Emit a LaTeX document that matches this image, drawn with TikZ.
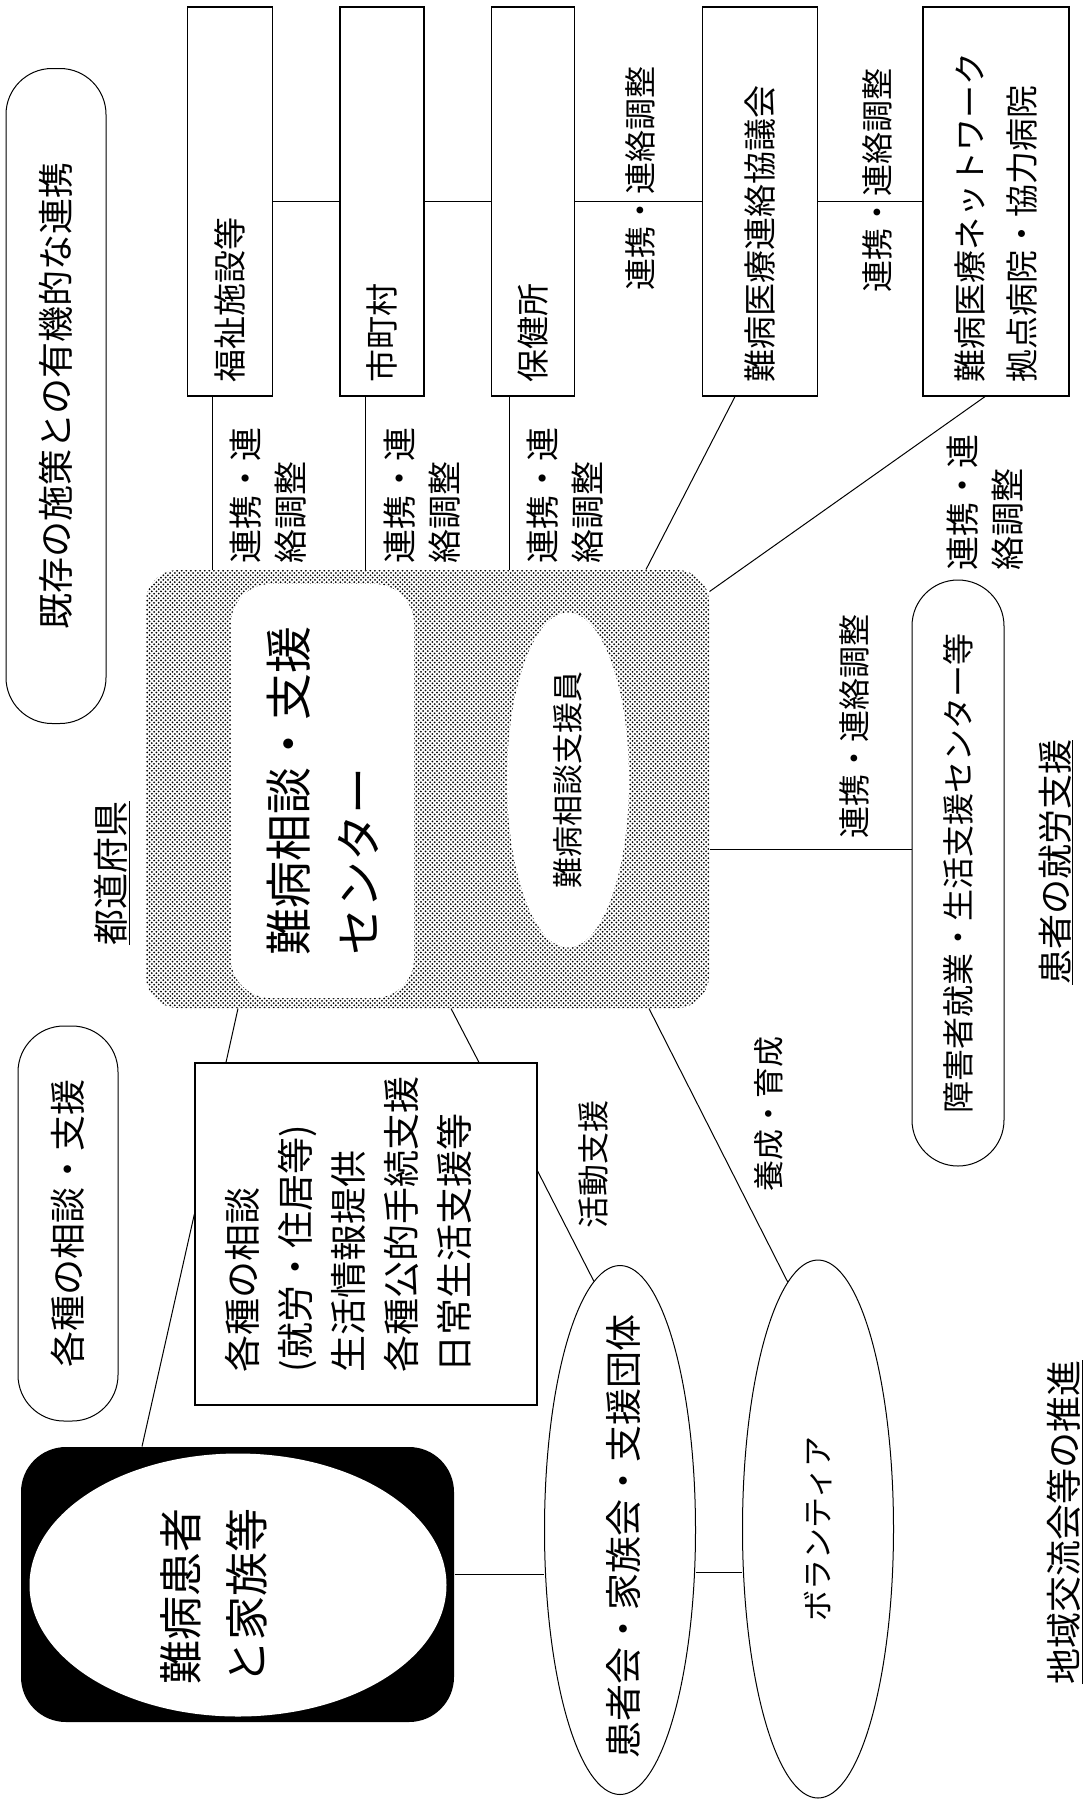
\documentclass[tikz,border=0pt]{standalone}
\usepackage{fontspec}
\setmainfont{Noto Sans CJK JP}
\usetikzlibrary{shapes.geometric,patterns}
\newcommand{\jp}[2]{\fontsize{#1}{#2}\selectfont}
\pgfdeclarepatternformonly{centredots}{\pgfqpoint{-1pt}{-1pt}}{\pgfqpoint{3.5pt}{3.5pt}}{\pgfqpoint{4.6pt}{4.6pt}}{
    \pgfpathcircle{\pgfqpoint{0pt}{0pt}}{1pt}
    \pgfpathcircle{\pgfqpoint{2.3pt}{2.3pt}}{1pt}
    \pgfusepath{fill}}

\begin{document}
\begin{tikzpicture}[x=1pt, y=-1pt, line width=1pt,
        every node/.style={rotate=90, inner sep=0pt},
        topbox/.style={draw, line width=1.2pt, minimum width=389, minimum height=#1, text width=361, align=left, font=\jp{33}{52}},
        roundbox/.style={draw, rounded corners=46, minimum height=100, font=\jp{36}{44}},
        pairlbl/.style={align=left, font=\jp{34}{45}},
        linklbl/.style={font=\jp{32}{40}},
        headlbl/.style={font=\jp{36}{44}}]
        \fill[white] (0,0) rectangle (1085,1815);
        \useasboundingbox (0,0) rectangle (1085,1815);

        % Existing measures box
        \node[roundbox, minimum width=655] (kizon) at (56,396) {既存の施策との有機的な連携};

        % Top row of partner boxes
        \node[topbox=85] (fukushi) at (230,201.5) {福祉施設等};
        \node[topbox=84] (shichoson) at (382,201.5) {市町村};
        \node[topbox=83] (hokenjo) at (533,201.5) {保健所};
        \node[topbox=115] (kyogikai) at (760,201.5) {難病医療連絡協議会};
        \node[topbox=146] (network) at (996,201.5) {難病医療ネットワーク\\拠点病院・協力病院};

        % Support centre of the prefecture
        \node[pattern=centredots, rounded corners=32, minimum width=438, minimum height=563] (shien) at (427.5,789) {};
        \node[fill=white, rounded corners=40, minimum width=414, minimum height=183, align=left, font=\jp{47}{70}] (shienbox) at (322.5,791) {難病相談・支援\\センター};
        \node[ellipse, fill=white, minimum width=335, minimum height=122, font=\jp{31}{36}] (shienin) at (568,780) {難病相談支援員};
        \node[headlbl] (todofuken) at (112,873) {\underline{都道府県}};

        % Employment support
        \node[roundbox, minimum width=586, minimum height=92, font=\jp{32}{40}] (shogai) at (958,873) {障害者就業・生活支援センター等};
        \node[font=\jp{35}{40}] (shuro) at (1056,862) {\underline{患者の就労支援}};

        % Consultation and patients
        \node[roundbox, minimum width=395] (soudan) at (68,1223.5) {各種の相談・支援};
        \node[draw, line width=1.2pt, minimum width=342, minimum height=342] (kakushu) at (366,1234) {};
        \node[align=left, font=\jp{37}{53}] (kakushutxt) at (348,1224) {各種の相談\\(就労・住居等)\\生活情報提供\\各種公的手続支援\\日常生活支援等};
        \node[fill=black, rounded corners=45, minimum width=275, minimum height=433] (kanja) at (237.5,1584.5) {};
        \node[ellipse, fill=white, minimum width=263, minimum height=417] (kanjaoval) at (238,1585) {};
        \node[align=left, font=\jp{44}{66}] (kanjatxt) at (214,1596) {難病患者\\と家族等};

        % Local groups
        \node[ellipse, draw, minimum width=529, minimum height=151] (kanjakai) at (620,1530) {};
        \node[font=\jp{37}{40}] (kanjakaitxt) at (623,1536) {患者会・家族会・支援団体};
        \node[ellipse, draw, minimum width=538, minimum height=151, font=\jp{31}{36}] (volunteer) at (818,1529) {ボランティア};
        \node[headlbl] (chiiki) at (1065,1522) {\underline{地域交流会等の推進}};

        % Links along the top row
        \draw (fukushi.south) -- (shichoson.north);
        \draw (shichoson.south) -- (hokenjo.north);
        \draw (hokenjo.south) -- (kyogikai.north);
        \draw (kyogikai.south) -- (network.north);
        \node[linklbl] (ltop1) at (640,178) {連携・連絡調整};
        \node[linklbl] (ltop2) at (877,180) {連携・連絡調整};

        % Links down to the centre
        \draw (fukushi.west -| 212,0) -- (shien.east -| 212,0);
        \draw (shichoson.west -| 365,0) -- (shien.east -| 365,0);
        \draw (hokenjo.west -| 509,0) -- (shien.east -| 509,0);
        \draw (kyogikai.west -| 735,0) -- (shien.east -| 646,0);
        \draw (network.west -| 985,0) -- (shien.-55);
        \node[pairlbl] (lfukushi) at (268,495) {連携・連\\絡調整};
        \node[pairlbl] (lshichoson) at (422,495) {連携・連\\絡調整};
        \node[pairlbl] (lhokenjo) at (565,495) {連携・連\\絡調整};
        \node[pairlbl] (lnetwork) at (985,502) {連携・連\\絡調整};

        % Link to employment support
        \draw (shien.south |- 0,849) -- (shogai.north |- 0,849);
        \node[linklbl] (lshogai) at (854,726) {連携・連絡調整};

        % Links below the centre
        \draw (shien.west -| 238,0) -- (kakushu.east -| 226,0);
        \draw (shien.west -| 451,0) -- (kakushu.east -| 479,0);
        \draw (shien.west -| 649,0) -- (volunteer.7);
        \draw (kakushu.south |- 0,1171) -- (kanjakai.6);
        \draw (kakushu.north |- 0,1214) -- (kanja.east -| 142,0);
        \draw (kanja.south |- 0,1574) -- (kanjakai.north |- 0,1574);
        \draw (kanjakai.south |- 0,1572) -- (volunteer.north |- 0,1572);
        \node[linklbl] (lkatsudo) at (593,1164) {活動支援};
        \node[linklbl, font=\jp{31}{36}] (lyosei) at (769,1114) {養成・育成};
\end{tikzpicture}
\end{document}
